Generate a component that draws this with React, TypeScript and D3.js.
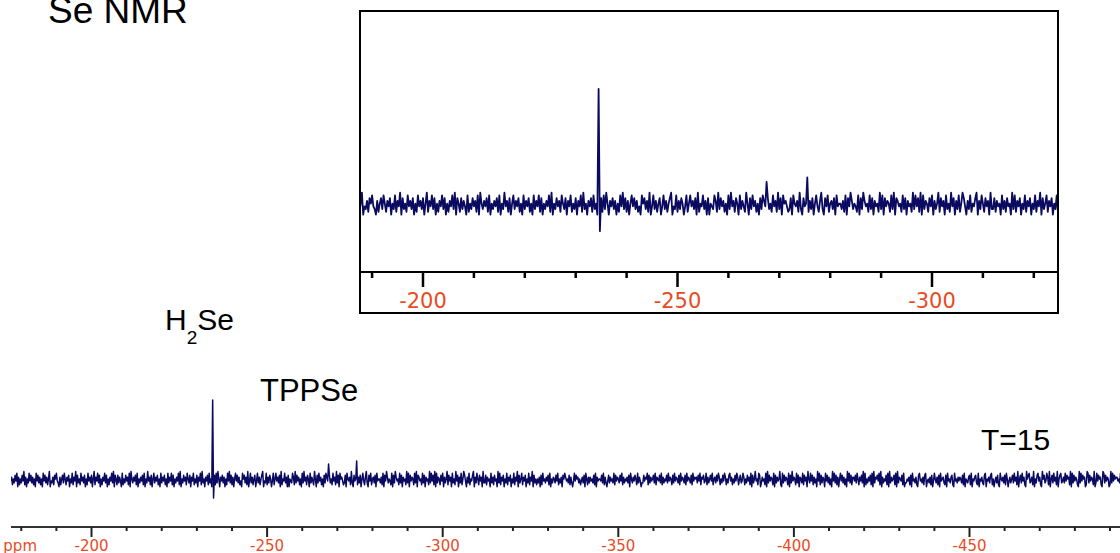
import React from "react";
import * as d3 from "d3";

// Spectrum sampled every 0.25 ppm starting at -177 ppm (noise band read as digits 0-9, centred on 4.5)
const startPpm = -177;
const stepPpm = 0.25;
const noiseDigits =
  "462537481625374926153847362518473625184736259143627584316257" +
  "385264715382649173528463715284637159264837152648371526483917" +
  "527364182537462819536472815364728153946271583647251836472518" +
  "364827153648291537462853716482537164829351647283516472839516" +
  "473615284937261584736241857362914836257148362579143826375148" +
  "258463719254836171543862937462518394627518364295173846251738" +
  "641735284629371856423718546293174582637158426931748256371845" +
  "536281749635428173964528371645293817465283917645283716452938" +
  "472918365274816359274618352947163825974163825479163852746193" +
  "372645183627451938264715382647153826491735826471538264917352" +
  "536172845364728153653748253617586453726314847563524637185263" +
  "645372816455473826314736453827465374826354637185364752836413" +
  "374658273645738265473826354738465273846537284653728465372846" +
  "563748265734826357482563748625374862537846253748625734862537" +
  "462817359452871364528193746528173645921837465281739465283716" +
  "538274619538472635194827365184736251948372615847362519483726" +
  "647385264739182536472819365748291635472819364572819365472813" +
  "354627184536217845362781453627148536271845632718453672184536" +
  "465372815436728154673281546327815463782514637218546372851463" +
  "573846291573846219578346291537846219573486291573846291578346" +
  "384756291837465219384756129837465291384756219837465129384756" +
  "645382719645382791654382719645832719645382791645382719654382";

const peakPpm = [-234.5, -234.75, -267.5, -275.5];
const peakHeight = [80, -18, 16, 19];

const mainTickLabels = [-200, -250, -300, -350, -400, -450];
const insetTickLabels = [-200, -250, -300];

const W = 1120;
const H = 553;

const navy = "#0a0a60";
const red = "#ea4a1f";

function buildSignal() {
  const pts: { ppm: number; v: number }[] = [];
  for (let i = 0; i < noiseDigits.length; i++) {
    const d = +noiseDigits[i];
    pts.push({ ppm: startPpm - i * stepPpm, v: (d - 4.5) * 1.9 });
  }
  peakPpm.forEach((p, k) => {
    const idx = Math.round((startPpm - p) / stepPpm);
    if (pts[idx]) pts[idx].v = peakHeight[k];
  });
  return pts;
}

export default function App() {
  const data = buildSignal();

  // main spectrum
  const xMain = d3.scaleLinear().domain([-200, -450]).range([91.5, 969.5]);
  const yMain = d3.scaleLinear().domain([0, 80]).range([480, 400]);
  const lineMain = d3
    .line<{ ppm: number; v: number }>()
    .x((d) => xMain(d.ppm))
    .y((d) => yMain(d.v));

  // inset spectrum
  const xIn = d3.scaleLinear().domain([-200, -300]).range([423, 932]);
  const yIn = d3.scaleLinear().domain([0, 80]).range([205, 89]);
  const lineIn = d3
    .line<{ ppm: number; v: number }>()
    .x((d) => xIn(d.ppm))
    .y((d) => yIn(d.v));

  const mainMinor = d3.range(-180, -500, -10);
  const inMinor = d3.range(-190, -330, -10);

  const axisY = 527;
  const inAxisY = 272;

  return (
    <svg
      width={W}
      height={H}
      style={{ position: "absolute", left: 0, top: 0, background: "#fff" }}
    >
      <defs>
        <clipPath id="clipMain">
          <rect x={11} y={300} width={1109} height={220} />
        </clipPath>
        <clipPath id="clipIn">
          <rect x={361} y={13} width={696} height={258} />
        </clipPath>
      </defs>
      <rect width={W} height={H} fill="#fff" />

      {/* title */}
      <text x={48} y={23} fontFamily="Liberation Sans, Arial" fontSize={37} fill="#000">
        Se NMR
      </text>

      {/* main spectrum */}
      <path
        d={lineMain(data) || ""}
        fill="none"
        stroke={navy}
        strokeWidth={1.5}
        strokeLinejoin="round"
        clipPath="url(#clipMain)"
      />

      {/* main axis */}
      <line x1={11} x2={W} y1={axisY} y2={axisY} stroke="#333" strokeWidth={2} />
      {mainMinor.map((t) => {
        const major = t % 50 === 0;
        return (
          <line
            key={t}
            x1={xMain(t)}
            x2={xMain(t)}
            y1={axisY}
            y2={axisY + (major ? 10 : 4)}
            stroke="#222"
            strokeWidth={2}
          />
        );
      })}
      {mainTickLabels.map((t) => (
        <text
          key={t}
          x={xMain(t)}
          y={551}
          textAnchor="middle"
          fontFamily="DejaVu Sans, Verdana"
          fontSize={15}
          fill={red}
        >
          {t}
        </text>
      ))}
      <text x={37} y={551} textAnchor="end" fontFamily="DejaVu Sans, Verdana" fontSize={15} fill={red}>
        ppm
      </text>

      {/* labels */}
      <text x={165} y={330} fontFamily="Liberation Sans, Arial" fontSize={30} fill="#000">
        H
        <tspan fontSize={19} dy={14}>2</tspan>
        <tspan fontSize={30} dy={-14}>Se</tspan>
      </text>
      <text x={260} y={401} fontFamily="Liberation Sans, Arial" fontSize={31} fill="#000">
        TPPSe
      </text>
      <text x={981} y={450} fontFamily="Liberation Sans, Arial" fontSize={30} fill="#000">
        T=15
      </text>

      {/* inset */}
      <rect x={360} y={11} width={698} height={302} fill="#fff" stroke="#000" strokeWidth={2} />
      <path
        d={lineIn(data) || ""}
        fill="none"
        stroke={navy}
        strokeWidth={1.8}
        strokeLinejoin="round"
        clipPath="url(#clipIn)"
      />
      <line x1={360} x2={1058} y1={inAxisY} y2={inAxisY} stroke="#000" strokeWidth={2} />
      {inMinor.map((t) => {
        const major = t % 50 === 0;
        return (
          <line
            key={t}
            x1={xIn(t)}
            x2={xIn(t)}
            y1={inAxisY}
            y2={inAxisY + (major ? 15 : 6)}
            stroke="#000"
            strokeWidth={2.5}
          />
        );
      })}
      {insetTickLabels.map((t) => (
        <text
          key={t}
          x={xIn(t)}
          y={308}
          textAnchor="middle"
          fontFamily="DejaVu Sans, Verdana"
          fontSize={21}
          fill={red}
        >
          {t}
        </text>
      ))}
    </svg>
  );
}
